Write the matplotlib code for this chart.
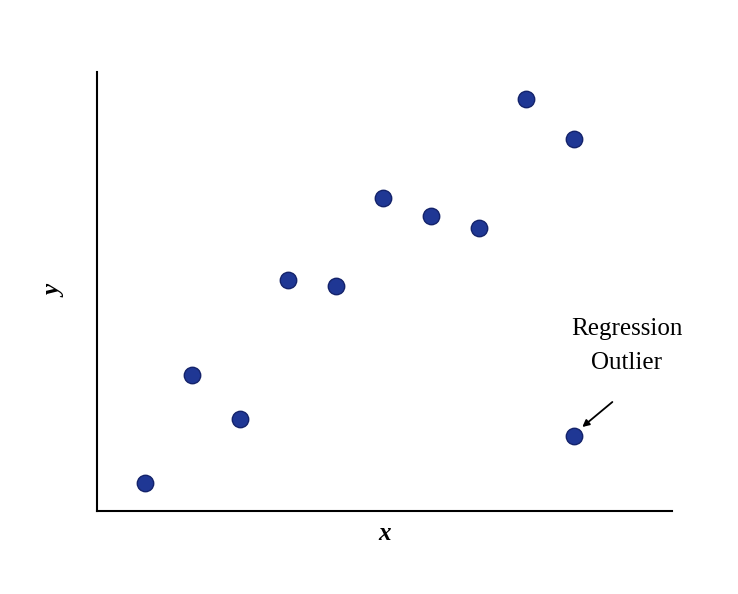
import matplotlib
matplotlib.use("Agg")
import matplotlib.pyplot as plt

xs = [1, 2, 3, 4, 5, 6, 7, 8, 9, 10, 10]
ys = [2.8, 13.6, 9.2, 23.1, 22.5, 31.3, 29.5, 28.3, 41.2, 37.2, 7.5]

fig = plt.figure(figsize=(7.38, 5.94), dpi=100)
ax = fig.add_axes([97/738, 83/594, 575/738, 439/594])
ax.scatter(xs, ys, s=140, color="#1f3794", edgecolors="#14236b", linewidths=1, zorder=3)
ax.set_xlim(0.0, 12.05)
ax.set_ylim(0, 43.9)
for s in ["top", "right"]:
    ax.spines[s].set_visible(False)
for s in ["left", "bottom"]:
    ax.spines[s].set_linewidth(1.5)
ax.set_xticks([]); ax.set_yticks([])
ax.set_xlabel("x", family="Liberation Serif", style="italic", weight="bold", fontsize=18, labelpad=8)
ax.set_ylabel("y", family="Liberation Serif", style="italic", weight="bold", fontsize=18, labelpad=22)
ax.text(11.1, 16.5, "Regression\nOutlier", ha="center", va="center",
        family="Liberation Serif", fontsize=18, linespacing=1.75)
ax.annotate("", xy=(10.17, 8.4), xytext=(10.8, 10.9),
            arrowprops=dict(arrowstyle="-|>", color="black", lw=1.3, shrinkA=0, shrinkB=0))
fig.savefig("out.png", dpi=100)
